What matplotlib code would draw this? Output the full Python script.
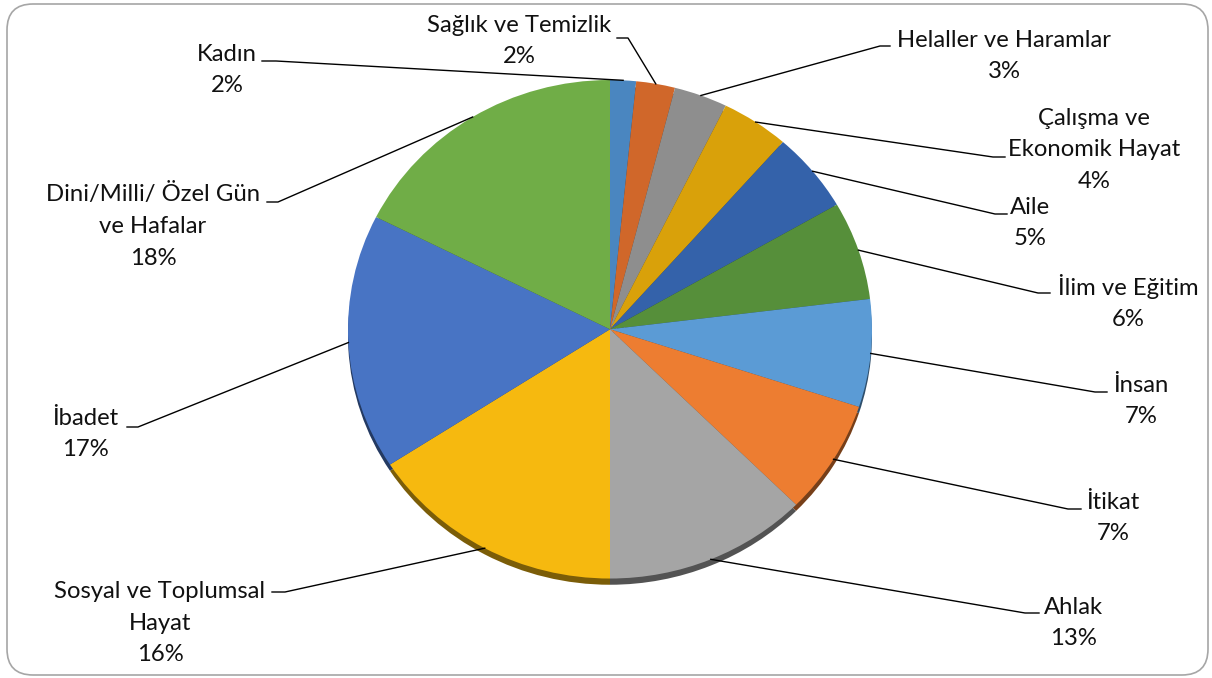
import numpy as np
import matplotlib
matplotlib.use("Agg")
import matplotlib.pyplot as plt
from matplotlib.patches import FancyBboxPatch
from matplotlib.colors import to_rgb

plt.rcParams["font.family"] = ["Lato", "DejaVu Sans"]

# slices, clockwise from the top
topics = [
    "Kadın",
    "Sağlık ve Temizlik",
    "Helaller ve Haramlar",
    "Çalışma ve\nEkonomik Hayat",
    "Aile",
    "İlim ve Eğitim",
    "İnsan",
    "İtikat",
    "Ahlak",
    "Sosyal ve Toplumsal\nHayat",
    "İbadet",
    "Dini/Milli/ Özel Gün\nve Hafalar",
]
shares = [1.6, 2.4, 3.3, 4.2, 5.2, 6.4, 7.0, 7.4, 12.6, 15.9, 16.6, 17.6]
colors = ["#4A86C0", "#D0672A", "#8E8E8E", "#D9A10A", "#3462AA", "#568F3A",
          "#5B9BD5", "#ED7D31", "#A5A5A5", "#F6B90F", "#4874C4", "#70AD47"]

# label layout (pixels, y down): text centre, elbow of leader, end of leader
text_pos = [(227, 70), (519, 41), (1004, 56), (1094, 150), (1030, 223), (1128, 302),
            (1141, 401), (1113, 518), (1073, 623), (160, 623), (85, 434), (153, 226)]
elbows = [(276, 61), (628, 38), (880, 46), (993, 157), (995, 214), (1038, 293),
          (1095, 392), (1068, 509), (1025, 613), (285, 592), (138, 427), (278, 202)]
ends = [(262, 61), (617, 38), (890, 46), (1005, 157), (1007, 214), (1050, 293),
        (1107, 392), (1081, 509), (1039, 613), (272, 592), (127, 427), (267, 202)]

W, H = 1212, 678
fig = plt.figure(figsize=(W / 100, H / 100), dpi=100)

# pie face: slightly squashed, so aspect is left free
ax = fig.add_axes([348 / W, 92 / H, 524 / W, 506 / H])
shadow = [tuple(c * 0.5 for c in to_rgb(col)) for col in colors]
ax.pie(shares, colors=shadow, startangle=90, counterclock=False,
       center=(0, -0.025), radius=1.0, wedgeprops=dict(linewidth=0))
wedges, _ = ax.pie(shares, colors=colors, startangle=90, counterclock=False,
                   radius=1.0, wedgeprops=dict(linewidth=0))
ax.set_aspect("auto")
ax.set_xlim(-1, 1)
ax.set_ylim(-1.03, 1)
ax.axis("off")

# overlay in pixel coordinates for border, labels and leaders
ov = fig.add_axes([0, 0, 1, 1])
ov.set_xlim(0, W)
ov.set_ylim(H, 0)
ov.axis("off")
ov.patch.set_alpha(0)

ov.add_patch(FancyBboxPatch((7, 4), 1201, 671,
                            boxstyle="round,pad=0,rounding_size=26",
                            facecolor="none", edgecolor="#A6A6A6", linewidth=1.2))

total = sum(shares)
for w, name, s, tp, el, en in zip(wedges, topics, shares, text_pos, elbows, ends):
    mid = np.deg2rad((w.theta1 + w.theta2) / 2)
    disp = ax.transData.transform((np.cos(mid), np.sin(mid)))
    ax_x, ax_y = ov.transData.inverted().transform(disp)
    ov.plot([ax_x, el[0], en[0]], [ax_y, el[1], en[1]], color="black", lw=1)
    pct = "%.0f%%" % (100 * s / total)
    ov.text(tp[0], tp[1], name + "\n" + pct, ha="center", va="center",
            multialignment="center", fontsize=17.2, linespacing=1.62, color="#111111")

fig.savefig("out.png", dpi=100)
